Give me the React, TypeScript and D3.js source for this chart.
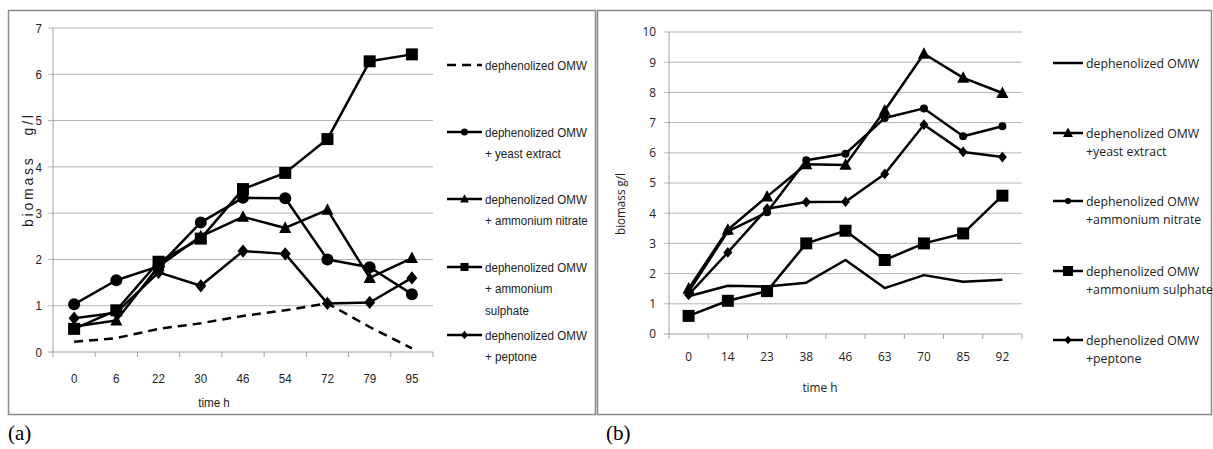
import React from "react";
import * as d3 from "d3";

// ---------- Data: panel (a) ----------
const timesA = ["0", "6", "22", "30", "46", "54", "72", "79", "95"];
const a_dephenolized = [0.22, 0.3, 0.5, 0.62, 0.78, 0.9, 1.05, 0.54, 0.08];
const a_yeast = [1.03, 1.55, 1.85, 2.8, 3.33, 3.32, 2.0, 1.83, 1.25];
const a_nitrate = [0.55, 0.68, 1.85, 2.5, 2.92, 2.68, 3.07, 1.6, 2.03];
const a_sulphate = [0.5, 0.9, 1.95, 2.45, 3.52, 3.87, 4.6, 6.28, 6.43];
const a_peptone = [0.73, 0.85, 1.72, 1.43, 2.18, 2.12, 1.05, 1.07, 1.6];
const yTicksA = [0, 1, 2, 3, 4, 5, 6, 7];

// ---------- Data: panel (b) ----------
const timesB = ["0", "14", "23", "38", "46", "63", "70", "85", "92"];
const b_dephenolized = [1.25, 1.6, 1.57, 1.7, 2.45, 1.52, 1.95, 1.73, 1.8];
const b_yeast = [1.5, 3.45, 4.55, 5.62, 5.6, 7.4, 9.28, 8.48, 7.98];
const b_nitrate = [1.4, 3.4, 4.03, 5.75, 5.97, 7.15, 7.47, 6.55, 6.88];
const b_sulphate = [0.6, 1.1, 1.42, 3.0, 3.42, 2.45, 3.0, 3.33, 4.58];
const b_peptone = [1.3, 2.7, 4.15, 4.37, 4.38, 5.3, 6.93, 6.03, 5.86];
const yTicksB = [0, 1, 2, 3, 4, 5, 6, 7, 8, 9, 10];

const legendA = [
  ["dephenolized OMW"],
  ["dephenolized OMW", "+ yeast extract"],
  ["dephenolized OMW", "+ ammonium nitrate"],
  ["dephenolized OMW", "+ ammonium", "sulphate"],
  ["dephenolized OMW", "+ peptone"],
];
const legendB = [
  ["dephenolized OMW"],
  ["dephenolized OMW", "+yeast extract"],
  ["dephenolized OMW", "+ammonium nitrate"],
  ["dephenolized OMW", "+ammonium sulphate"],
  ["dephenolized OMW", "+peptone"],
];

type Marker = "none" | "circle" | "triangle" | "square" | "diamond";

function MarkerShape({ type, x, y, size }: { type: Marker; x: number; y: number; size: number }) {
  if (type === "none") return null;
  const s = size;
  if (type === "circle") return <circle cx={x} cy={y} r={s / 2} fill="#000" />;
  if (type === "square") return <rect x={x - s / 2} y={y - s / 2} width={s} height={s} fill="#000" />;
  if (type === "triangle") {
    return <path d={`M${x},${y - s * 0.6}L${x + s * 0.55},${y + s * 0.45}L${x - s * 0.55},${y + s * 0.45}Z`} fill="#000" />;
  }
  return <path d={`M${x},${y - s * 0.6}L${x + s * 0.5},${y}L${x},${y + s * 0.6}L${x - s * 0.5},${y}Z`} fill="#000" />;
}

function T(props: { x: number; y: number; sx: number; size: number; anchor?: string; children: React.ReactNode }) {
  return (
    <text
      transform={`translate(${props.x},${props.y}) scale(${props.sx},1)`}
      dy="0.35em"
      textAnchor={props.anchor || "start"}
      fontSize={props.size}
      fill="#222"
    >
      {props.children}
    </text>
  );
}

type Series = { values: number[]; marker: Marker; size: number; dashed?: boolean };

function Panel(props: {
  cats: string[];
  series: Series[];
  yTicks: number[];
  x0: number; x1: number; yTop: number; yBot: number;
  yMax: number;
  font: string; fontSize: number; sx: number;
  yLabel: string; yLabelX: number; yLabelY: number; yLabelLen: number; yLabelSize: number; yLabelAdjust: string;
  xLabelX: number; xLabelY: number;
  tickLabelY: number; yTickLabelX: number;
  legend: string[][]; legendY: number[]; legLine: [number, number]; legTextX: number; legLH: number; legFont: number;
  legMarkerSize: number[];
}) {
  const p = props;
  const x = d3.scaleBand<string>().domain(p.cats).range([p.x0, p.x1]).padding(0);
  const y = d3.scaleLinear().domain([0, p.yMax]).range([p.yBot, p.yTop]);
  const cx = (c: string) => (x(c) as number) + x.bandwidth() / 2;
  const line = d3.line<number>().x((_, i) => cx(p.cats[i])).y((v) => y(v));
  const bounds = p.cats.map((c) => x(c) as number).concat([p.x1]);
  return (
    <g fontFamily={p.font}>
      {p.yTicks.map((t) => (
        <g key={t}>
          <line x1={p.x0 - 5} x2={p.x1} y1={y(t)} y2={y(t)} stroke={t === 0 ? "#a0a0a0" : "#b4b4b4"} strokeWidth={1} />
          <T x={p.yTickLabelX} y={y(t)} sx={p.sx} size={p.fontSize} anchor="end">{t}</T>
        </g>
      ))}
      <line x1={p.x0} x2={p.x0} y1={p.yTop} y2={p.yBot} stroke="#a0a0a0" />
      {bounds.map((b, i) => (
        <line key={i} x1={b} x2={b} y1={p.yBot} y2={p.yBot + 5} stroke="#a0a0a0" />
      ))}
      {p.cats.map((c) => (
        <T key={c} x={cx(c)} y={p.tickLabelY} sx={p.sx} size={p.fontSize} anchor="middle">{c}</T>
      ))}
      <T x={p.xLabelX} y={p.xLabelY} sx={p.sx} size={p.fontSize} anchor="middle">time h</T>
      <text
        transform={`translate(${p.yLabelX},${p.yLabelY}) rotate(-90)`}
        x={-p.yLabelLen / 2}
        dy="0.35em"
        fontSize={p.yLabelSize}
        fill="#222"
        textLength={p.yLabelLen}
        lengthAdjust={p.yLabelAdjust}
        style={{ whiteSpace: "pre" }}
      >
        {p.yLabel}
      </text>
      {p.series.map((s, k) => (
        <g key={k}>
          <path d={line(s.values) || ""} fill="none" stroke="#000" strokeWidth={2.5} strokeDasharray={s.dashed ? "9,6" : undefined} strokeLinejoin="round" />
          {s.values.map((v, i) => (
            <MarkerShape key={i} type={s.marker} x={cx(p.cats[i])} y={y(v)} size={s.size} />
          ))}
        </g>
      ))}
      {p.legend.map((lines, k) => {
        const s = p.series[k];
        const ly = p.legendY[k];
        return (
          <g key={k}>
            <line x1={p.legLine[0]} x2={p.legLine[1]} y1={ly} y2={ly} stroke="#000" strokeWidth={2.5} strokeDasharray={s.dashed ? "9,6" : undefined} />
            <MarkerShape type={s.marker} x={(p.legLine[0] + p.legLine[1]) / 2} y={ly} size={p.legMarkerSize[k]} />
            {lines.map((t, j) => (
              <T key={j} x={p.legTextX} y={ly + j * p.legLH} sx={p.sx} size={p.legFont}>{t}</T>
            ))}
          </g>
        );
      })}
    </g>
  );
}

export default function App() {
  const sansA = "'Liberation Sans', Arial, sans-serif";
  const sansB = "'Open Sans', 'Noto Sans', sans-serif";
  return (
    <svg width={1213} height={449} style={{ position: "absolute", left: 0, top: 0 }}>
      <rect x={0} y={0} width={1213} height={449} fill="#fff" />
      <rect x={8.5} y={10.5} width={587} height={404} fill="none" stroke="#8a8a8a" strokeWidth={1.5} />
      <rect x={597.5} y={10.5} width={614} height={404} fill="none" stroke="#8a8a8a" strokeWidth={1.5} />
      <Panel
        cats={timesA}
        series={[
          { values: a_dephenolized, marker: "none", size: 0, dashed: true },
          { values: a_yeast, marker: "circle", size: 12 },
          { values: a_nitrate, marker: "triangle", size: 11 },
          { values: a_sulphate, marker: "square", size: 12 },
          { values: a_peptone, marker: "diamond", size: 11 },
        ]}
        yTicks={yTicksA}
        x0={53} x1={433} yTop={28} yBot={352} yMax={7}
        font={sansA} fontSize={13.5} sx={0.86}
        yLabel={"biomass   g/l"} yLabelX={28} yLabelY={171} yLabelLen={112} yLabelSize={14} yLabelAdjust="spacing"
        xLabelX={214} xLabelY={402}
        tickLabelY={378} yTickLabelX={42}
        legend={legendA} legendY={[65, 132, 199, 267, 335]} legLine={[447, 482]} legTextX={485} legLH={21.5} legFont={13.5}
        legMarkerSize={[0, 7, 8, 8, 7]}
      />
      <Panel
        cats={timesB}
        series={[
          { values: b_dephenolized, marker: "none", size: 0 },
          { values: b_yeast, marker: "triangle", size: 11 },
          { values: b_nitrate, marker: "circle", size: 8 },
          { values: b_sulphate, marker: "square", size: 12 },
          { values: b_peptone, marker: "diamond", size: 9 },
        ]}
        yTicks={yTicksB}
        x0={669} x1={1022} yTop={32} yBot={334} yMax={10}
        font={sansB} fontSize={12.5} sx={0.95}
        yLabel="biomass g/l" yLabelX={621} yLabelY={204} yLabelLen={62} yLabelSize={12} yLabelAdjust="spacingAndGlyphs"
        xLabelX={820} xLabelY={388}
        tickLabelY={357} yTickLabelX={656}
        legend={legendB} legendY={[63, 133, 201, 271, 340]} legLine={[1053, 1083]} legTextX={1086} legLH={18} legFont={13}
        legMarkerSize={[0, 9, 6, 10, 7]}
      />
      <text x={8} y={440} fontFamily="'Liberation Serif', 'Times New Roman', serif" fontSize={21} fill="#000">(a)</text>
      <text x={606} y={440} fontFamily="'Liberation Serif', 'Times New Roman', serif" fontSize={21} fill="#000">(b)</text>
    </svg>
  );
}
